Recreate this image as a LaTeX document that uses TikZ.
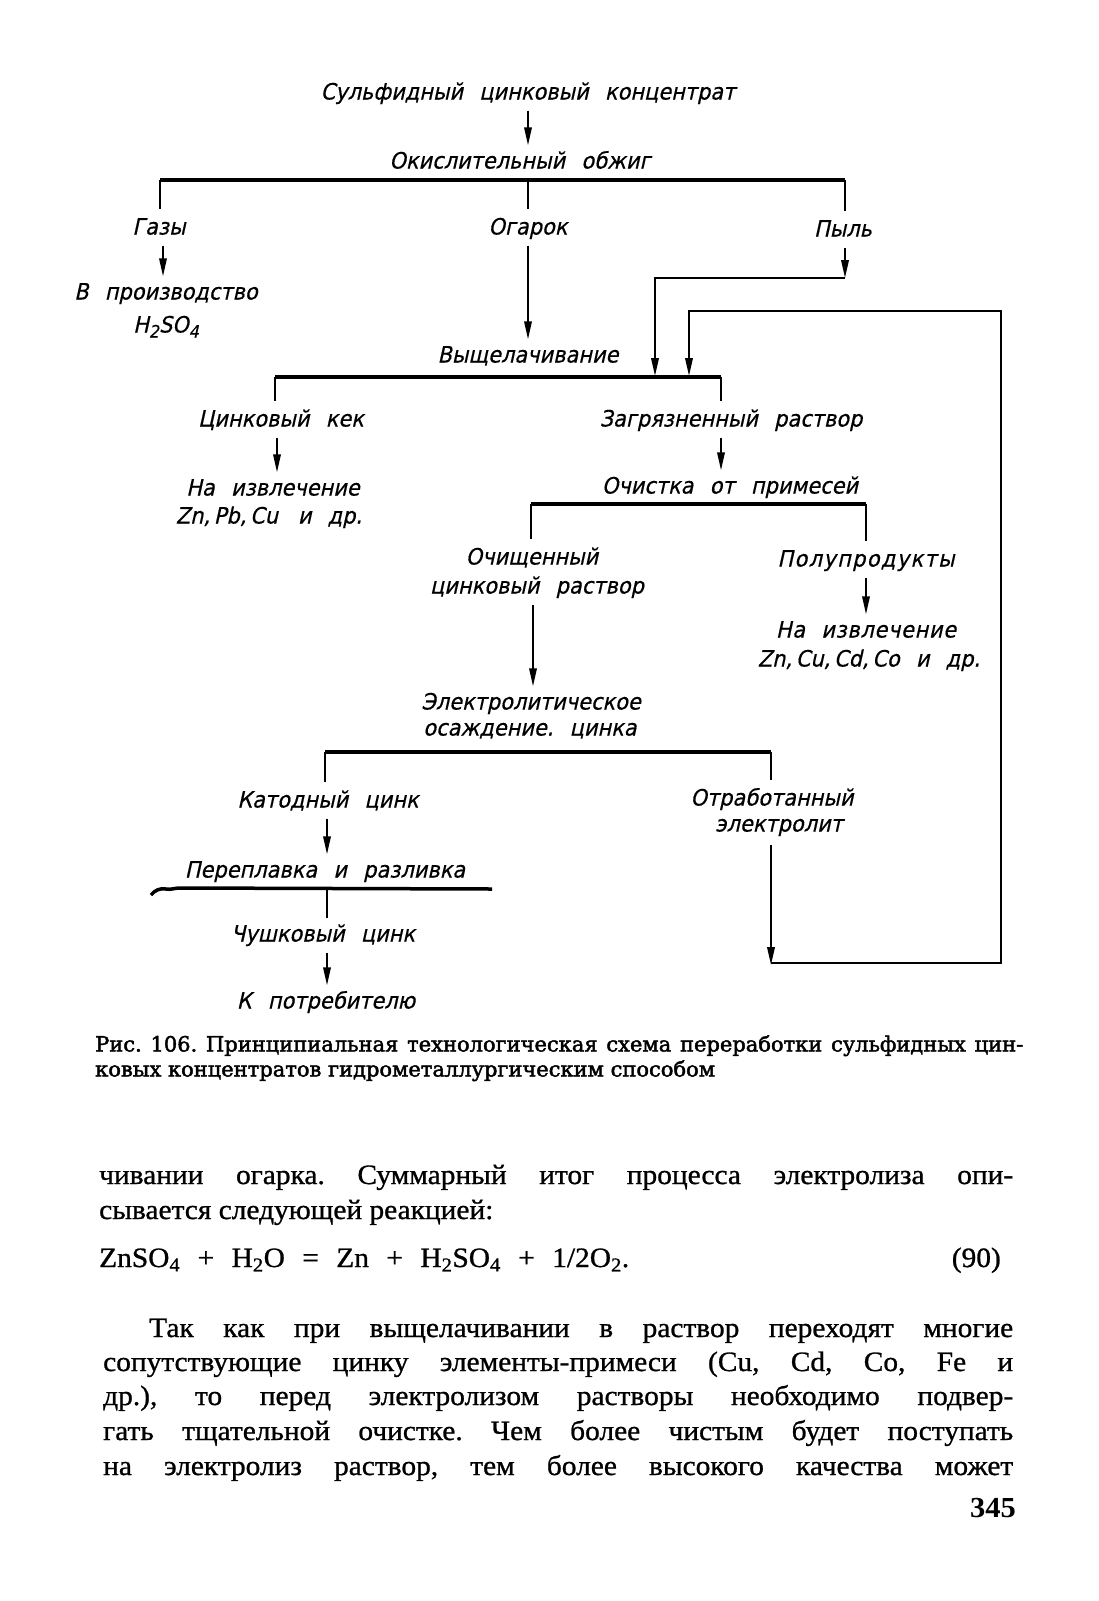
\documentclass[tikz,border=0pt]{standalone}
\usepackage{fontspec}
\setmainfont{Liberation Serif}
\newfontfamily\gost[FakeStretch=0.93,FakeSlant=0.22,FakeBold=0.5]{DejaVu Sans}
\newfontfamily\capfam[FakeBold=2]{DejaVu Serif}
\newfontfamily\bodyfam[FakeBold=0.9,FakeStretch=1.05]{Liberation Serif}
\newfontfamily\pagefam[FakeStretch=1.05]{Liberation Serif}
\usetikzlibrary{arrows.meta}
\newcommand\gostfont{\gost\fontsize{22.5}{27}\selectfont\spaceskip=0.72em\relax}
\newcommand\gostsub[1]{\raisebox{-5pt}{\fontsize{17}{17}\selectfont #1}}
\newcommand\bodyfont{\bodyfam\fontsize{28}{32}\selectfont}
\newcommand\capfont{\capfam\fontsize{21}{25}\selectfont}
\frenchspacing
\begin{document}
\frenchspacing
\begin{tikzpicture}[x=1pt,y=-1pt,
  lab/.style={font=\gostfont, inner xsep=0pt, inner ysep=5pt, text height=15pt, text depth=4pt},
  arr/.style={line width=1.8pt, shorten <=2pt, shorten >=3pt, -{Triangle[length=18pt,width=7.5pt]}},
  arrb/.style={line width=2pt, line join=miter, -{Triangle[length=18pt,width=7.5pt]}},
  ln/.style={line width=1.8pt},
  drop/.style={line width=1.8pt, shorten >=5pt},
  bar/.style={line width=3.5pt},
  body/.style={font=\bodyfont, anchor=west, inner sep=0pt, text height=19pt, text depth=5pt},
  capt/.style={font=\capfont, anchor=west, inner sep=0pt, text height=16pt, text depth=5pt}]
\useasboundingbox (0,0) rectangle (1099,1601);
\fill[white] (0,0) rectangle (1099,1601);

% ---- vertical reference coordinates
\coordinate (xA) at (528,0);
\coordinate (xG) at (163,0);
\coordinate (xP) at (845,0);
\coordinate (xK) at (277,0);
\coordinate (xZ) at (721,0);
\coordinate (xO) at (533,0);
\coordinate (xPp) at (866,0);
\coordinate (xKt) at (327,0);

% ---- nodes
\node[lab] (title) at (528,94) {Сульфидный цинковый концентрат};
\node[lab] (okisl) at (520,163) {Окислительный обжиг};
\coordinate (b1L) at (160,180);
\coordinate (b1R) at (845,180);
\node[lab] (gazy) at (159,229) {Газы};
\node[lab] (ogarok) at (528,229) {Огарок};
\node[lab] (pyl) at (843,231) {Пыль};
\node[lab] (vproizv) at (166,294) {В производство};
\node[lab] (hso) at (166,327) {H\gostsub{2}SO\gostsub{4}};
\node[lab] (vysch) at (528,357) {Выщелачивание};
\coordinate (b2L) at (275,377);
\coordinate (b2R) at (721,377);
\node[lab] (kek) at (281,421) {Цинковый кек};
\node[lab] (zagr) at (731,421) {Загрязненный раствор};
\node[lab] (naizvA) at (273,490) {На извлечение};
\node[lab] (znA) at (269,518) {Zn,\,Pb,\,Cu\, и др.};
\node[lab] (ochistka) at (730,488) {Очистка от примесей};
\coordinate (b3L) at (531,504);
\coordinate (b3R) at (866,504);
\node[lab] (ochA) at (532,559) {Очищенный};
\node[lab] (ochB) at (537,588) {цинковый раствор};
\node[lab] (polupr) at (866,561) {\addfontfeature{LetterSpace=6}Полупродукты};
\node[lab] (naizvB) at (866,632) {\addfontfeature{LetterSpace=3}На извлечение};
\node[lab] (znB) at (869,661) {Zn,\,Cu,\,Cd,\,Co и др.};
\node[lab] (elA) at (531,704) {Электролитическое};
\node[lab] (elB) at (530,730) {осаждение. цинка};
\coordinate (b4L) at (325,752);
\coordinate (b4R) at (771,752);
\node[lab] (katod) at (328,802) {Катодный цинк};
\node[lab] (otrA) at (772,800) {Отработанный};
\node[lab] (otrB) at (779,826) {электролит};
\node[lab] (perepl) at (325,872) {Переплавка и разливка};
\coordinate (uL) at (151,895);
\coordinate (uR) at (492,889);
\node[lab] (chush) at (323,936) {Чушковый цинк};
\node[lab] (potreb) at (326,1003) {К потребителю};

% loop coordinates
\coordinate (cP) at (845,278);
\coordinate (cP2) at (655,278);
\coordinate (cB1) at (771,963);
\coordinate (cB2) at (1001,963);
\coordinate (cT2) at (1001,311);
\coordinate (cT2b) at (689,311);

% ---- bars
\draw[bar] (b1L) -- (b1R);
\draw[bar] (b2L) -- (b2R);
\draw[bar] (b3L) -- (b3R);
\draw[bar] (b4L) -- (b4R);
\draw[bar] (uL) .. controls (155,890) and (160,888) .. (166,889)
  .. controls (171,890) and (174,888) .. (180,888) -- (uR);

% ---- drops
\draw[drop] (b1L) -- (b1L |- gazy.north);
\draw[drop] (xA |- b1L) -- (xA |- ogarok.north);
\draw[drop] (b1R) -- (b1R |- pyl.north);
\draw[drop] (b2L) -- (b2L |- kek.north);
\draw[drop] (b2R) -- (b2R |- zagr.north);
\draw[drop] (b3L) -- (b3L |- ochA.north);
\draw[drop] (b3R) -- (b3R |- polupr.north);
\draw[drop] (b4L) -- (b4L |- katod.north);
\draw[drop] (b4R) -- (b4R |- otrA.north);

% ---- arrows
\draw[arr] (title.south -| xA) -- (okisl.north -| xA);
\draw[arr] (gazy.south -| xG) -- (vproizv.north -| xG);
\draw[arr] (ogarok.south -| xA) -- (vysch.north -| xA);
\draw[arr] (kek.south -| xK) -- (naizvA.north -| xK);
\draw[arr] (zagr.south -| xZ) -- (ochistka.north -| xZ);
\draw[arr] (polupr.south -| xPp) -- (naizvB.north -| xPp);
\draw[arr] (ochB.south -| xO) -- (elA.north -| xO);
\draw[arr] (katod.south -| xKt) -- (perepl.north -| xKt);
\draw[ln, shorten >=3pt] (xKt |- uR) -- (chush.north -| xKt);
\draw[arr] (chush.south -| xKt) -- (potreb.north -| xKt);

% dust route
\draw[arrb, shorten <=2pt] (pyl.south -| xP) -- (cP);
\draw[arrb] (cP) -- (cP2) -- ([yshift=1pt]cP2 |- b2L);
% spent electrolyte recycle
\draw[arrb, shorten <=4pt] (otrB.south -| cB1) -- ([yshift=-2pt]cB1);
\draw[arrb] (cB1) -- (cB2) -- (cT2) -- (cT2b) -- ([yshift=1pt]cT2b |- b2L);

% ---- caption
\node[capt] (capA) at (95,1046) {\makebox[928pt][s]{Рис. 106. Принципиальная технологическая схема переработки сульфидных цин-}};
\node[capt] (capB) at (95,1071) {ковых концентратов гидрометаллургическим способом};

% ---- body text
\node[body] (t1) at (99,1177) {\makebox[914pt][s]{чивании огарка. Суммарный итог процесса электролиза опи-}};
\node[body] (t2) at (99,1212) {сывается следующей реакцией:};
\node[body] (eq) at (99,1260) {\makebox[530pt][s]{ZnSO\textsubscript{4} + H\textsubscript{2}O = Zn + H\textsubscript{2}SO\textsubscript{4} + 1/2O\textsubscript{2}.}};
\node[body, anchor=east] (eqn) at (1001,1260) {(90)};
\node[body] (p1) at (149,1330) {\makebox[864pt][s]{Так как при выщелачивании в раствор переходят многие}};
\node[body] (p2) at (103,1364) {\makebox[910pt][s]{сопутствующие цинку элементы-примеси (Cu, Cd, Co, Fe и}};
\node[body] (p3) at (103,1398) {\makebox[910pt][s]{др.), то перед электролизом растворы необходимо подвер-}};
\node[body] (p4) at (103,1433) {\makebox[910pt][s]{гать тщательной очистке. Чем более чистым будет поступать}};
\node[body] (p5) at (103,1468) {\makebox[910pt][s]{на электролиз раствор, тем более высокого качества может}};
\node[body, anchor=east, font=\pagefam\bfseries\fontsize{29}{32}\selectfont] (page) at (1016,1510) {345};
\end{tikzpicture}
\end{document}
